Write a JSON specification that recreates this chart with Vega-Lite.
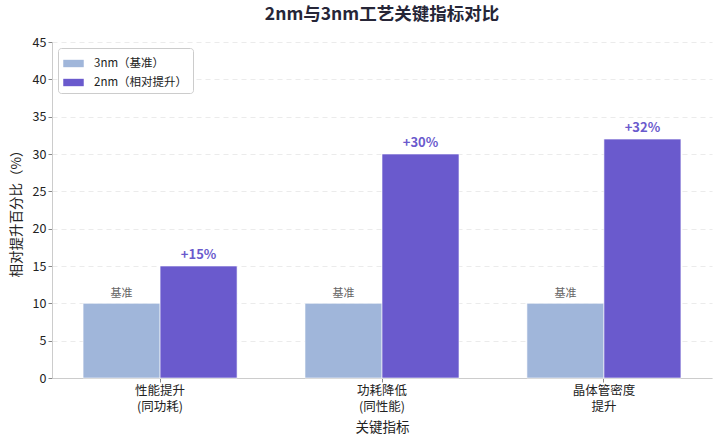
{
  "$schema": "https://vega.github.io/schema/vega-lite/v6.json",
  "width": 660,
  "height": 336,
  "autosize": {"type": "none"},
  "padding": {"left": 52, "top": 42, "right": 8, "bottom": 67},
  "title": {
    "text": "2nm与3nm工艺关键指标对比",
    "font": "Noto Sans CJK SC",
    "fontSize": 17.5,
    "fontWeight": "bold",
    "color": "#262637",
    "anchor": "middle",
    "offset": 13
  },
  "config": {
    "font": "Noto Sans CJK SC",
    "view": {"stroke": null},
    "axis": {
      "labelFont": "Noto Sans CJK SC",
      "titleFont": "Noto Sans CJK SC",
      "labelColor": "#222222",
      "titleColor": "#222222",
      "titleFontWeight": "normal",
      "domainColor": "#cccccc",
      "tickColor": "#888888"
    }
  },
  "data": {
    "values": [
      {"metric": "性能提升\n(同功耗)", "series": "3nm（基准）", "value": 10, "label": "基准"},
      {"metric": "性能提升\n(同功耗)", "series": "2nm（相对提升）", "value": 15, "label": "+15%"},
      {"metric": "功耗降低\n(同性能)", "series": "3nm（基准）", "value": 10, "label": "基准"},
      {"metric": "功耗降低\n(同性能)", "series": "2nm（相对提升）", "value": 30, "label": "+30%"},
      {"metric": "晶体管密度\n提升", "series": "3nm（基准）", "value": 10, "label": "基准"},
      {"metric": "晶体管密度\n提升", "series": "2nm（相对提升）", "value": 32, "label": "+32%"}
    ]
  },
  "encoding": {
    "x": {
      "field": "metric",
      "type": "nominal",
      "sort": null,
      "title": "关键指标",
      "scale": {"paddingInner": 0.306, "paddingOuter": 0.14},
      "axis": {
        "labelAngle": 0,
        "labelFontSize": 12.5,
        "labelExpr": "split(datum.label, '\\n')",
        "labelLineHeight": 16,
        "titleFontSize": 13.5,
        "titlePadding": 8,
        "tickSize": 4
      }
    },
    "xOffset": {
      "field": "series",
      "type": "nominal",
      "sort": ["3nm（基准）", "2nm（相对提升）"],
      "scale": {"paddingInner": 0, "paddingOuter": 0}
    },
    "y": {
      "field": "value",
      "type": "quantitative",
      "title": "相对提升百分比（%）",
      "scale": {"domain": [0, 45]},
      "axis": {
        "values": [0, 5, 10, 15, 20, 25, 30, 35, 40, 45],
        "labelFontSize": 12.5,
        "titleFontSize": 13.5,
        "titlePadding": 9,
        "tickSize": 4,
        "gridDash": [5, 4],
        "gridColor": "#e6e6e6",
        "gridWidth": 0.8
      }
    }
  },
  "layer": [
    {
      "mark": {"type": "bar", "stroke": "white", "strokeWidth": 0.6},
      "encoding": {
        "color": {
          "field": "series",
          "type": "nominal",
          "sort": ["3nm（基准）", "2nm（相对提升）"],
          "title": null,
          "scale": {"domain": ["3nm（基准）", "2nm（相对提升）"], "range": ["#a0b6da", "#6a5acd"]},
          "legend": {
            "orient": "top-left",
            "offset": 6,
            "labelFont": "Noto Sans CJK SC",
            "labelFontSize": 11.5,
            "labelColor": "#222222",
            "labelOffset": 10,
            "symbolType": "M-1,-0.36H1V0.36H-1Z",
            "symbolSize": 420,
            "symbolStrokeWidth": 0,
            "rowPadding": 3,
            "padding": 5,
            "strokeColor": "#cccccc",
            "fillColor": "white",
            "cornerRadius": 3
          }
        }
      }
    },
    {
      "transform": [{"filter": "datum.label == '基准'"}],
      "mark": {"type": "text", "dy": -9, "fontSize": 11, "color": "#666666"},
      "encoding": {"text": {"field": "label"}}
    },
    {
      "transform": [{"filter": "datum.label != '基准'"}],
      "mark": {"type": "text", "dy": -11, "fontSize": 13, "fontWeight": "bold", "color": "#6a5acd"},
      "encoding": {"text": {"field": "label"}}
    }
  ]
}
